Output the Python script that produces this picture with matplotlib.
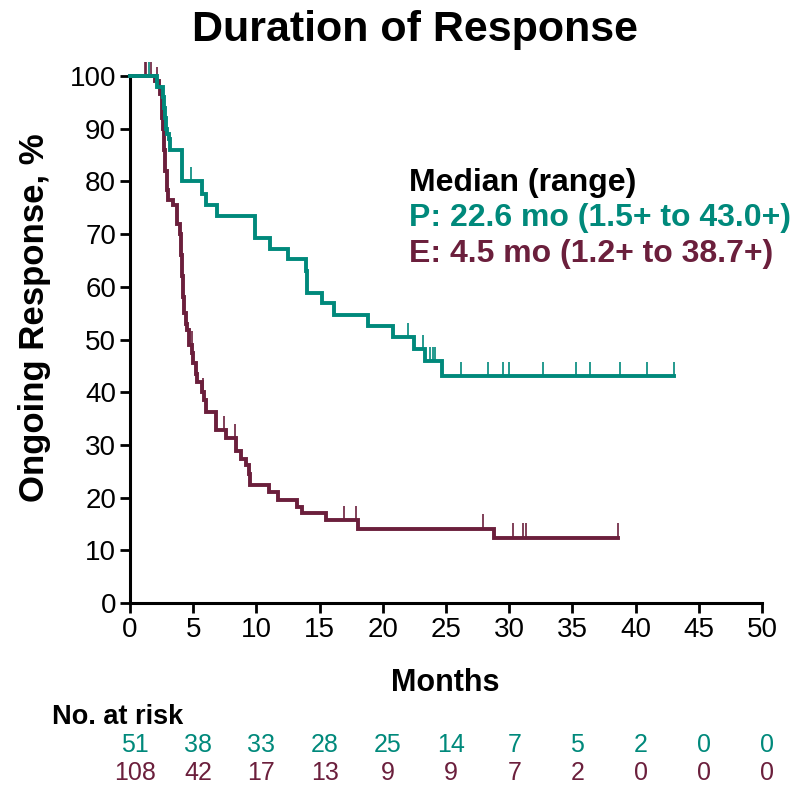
import matplotlib
matplotlib.use('Agg')
import matplotlib.pyplot as plt
import matplotlib.transforms as mtransforms
import numpy as np

plt.rcParams['font.family'] = ['Liberation Sans', 'DejaVu Sans']

teal = '#00897b'
maroon = '#6b1f3c'

# step curves: time of event, survival after event (%)
p_times = [0, 2.1, 2.6, 2.7, 2.75, 2.85, 2.95, 3.05, 3.15, 4.1, 5.7, 6.05, 6.9, 9.9, 11.1, 12.5,
           13.9, 14.0, 15.2, 16.1, 18.8, 20.8, 22.5, 23.3, 24.7, 43.0]
p_surv = [100, 98.0, 96.0, 94.0, 92.0, 90.0, 89.0, 88.0, 86.0, 80.0, 77.6, 75.6, 73.5, 69.3, 67.2, 65.2,
          63.0, 58.9, 56.9, 54.7, 52.6, 50.4, 48.2, 45.9, 43.0, 43.0]
p_cens = [1.5, 4.8, 22.0, 23.2, 23.7, 23.95, 24.15, 26.2, 28.3, 29.5, 30.0, 32.7, 35.3, 36.4,
          38.8, 40.9, 43.0]

e_times = [0, 2.0, 2.3, 2.4, 2.5, 2.55, 2.6, 2.7, 2.8, 2.9, 3.0, 3.4, 3.7, 3.95, 4.05, 4.1, 4.2,
           4.3, 4.4, 4.5, 4.7, 4.9, 4.95, 5.2, 5.3, 5.7, 5.85, 6.0, 6.8, 7.6, 8.4, 8.8, 9.2, 9.4,
           9.5, 11.0, 11.7, 13.2, 13.6, 15.5, 18.0, 28.8, 38.6]
e_surv = [100, 99.0, 98.0, 96.5, 94.0, 92.0, 90.0, 86.0, 82.0, 78.4, 76.5, 75.5, 72.0, 70.0, 66.0,
          62.0, 58.0, 55.0, 53.0, 51.8, 49.0, 47.5, 45.5, 43.5, 42.0, 40.0, 38.5, 36.3, 32.8, 31.3,
          28.9, 27.4, 26.2, 24.5, 22.3, 21.0, 19.5, 18.3, 17.0, 15.7, 14.1, 12.4, 12.4]
e_cens = [1.2, 1.3, 1.65, 2.1, 4.87, 5.8, 7.46, 8.3, 16.95, 17.9, 27.9, 30.3, 31.1, 31.3, 38.6]

risk_times = [0, 5, 10, 15, 20, 25, 30, 35, 40, 45, 50]
p_risk = [51, 38, 33, 28, 25, 14, 7, 5, 2, 0, 0]
e_risk = [108, 42, 17, 13, 9, 9, 7, 2, 0, 0, 0]


def surv_at(times, surv, t):
    idx = np.searchsorted(times, t, side='right') - 1
    return surv[max(idx, 0)]


fig = plt.figure(figsize=(7.99, 7.86), dpi=100)
ax = fig.add_axes([0.1627, 0.2328, 0.791, 0.6705])

for times, surv, cens, col in [(e_times, e_surv, e_cens, maroon), (p_times, p_surv, p_cens, teal)]:
    ax.step(times, surv, where='post', color=col, lw=2.8, solid_joinstyle='miter', clip_on=False, zorder=3)
    cy = [surv_at(times, surv, c) for c in cens]
    ax.vlines(cens, cy, np.array(cy) + 2.7, color=col, lw=1.2, clip_on=False, zorder=3)

ax.set_xlim(0, 50)
ax.set_ylim(0, 100)
ax.set_xticks(range(0, 51, 5))
ax.set_yticks(range(0, 101, 10))
for s in ['top', 'right']:
    ax.spines[s].set_visible(False)
for s in ['left', 'bottom']:
    ax.spines[s].set_linewidth(2.2)
ax.tick_params(direction='out', length=7, width=2, labelsize=20, pad=3)

fig.text(445 / 799, 1 - 683 / 786, 'Months', fontsize=22, fontweight='bold', ha='center', va='center')
fig.text(35 / 799, 1 - 318 / 786, 'Ongoing Response, %', fontsize=25, fontweight='bold',
         rotation=90, ha='center', va='center')
fig.text(415 / 799, 1 - 30 / 786, 'Duration of Response', fontsize=31, fontweight='bold',
         ha='center', va='center')

ax.text(22.1, 79.7, 'Median (range)', fontsize=23, fontweight='bold', color='black', va='center')
ax.text(22.1, 73.1, 'P: 22.6 mo (1.5+ to 43.0+)', fontsize=23, fontweight='bold', color=teal, va='center')
ax.text(22.1, 66.2, 'E: 4.5 mo (1.2+ to 38.7+)', fontsize=23, fontweight='bold', color=maroon, va='center')

fig.text(52 / 799, 1 - 717 / 786, 'No. at risk', fontsize=19.5, fontweight='bold', va='center', ha='left')
trans = mtransforms.blended_transform_factory(ax.transData, fig.transFigure)
for t, pr, er in zip(risk_times, p_risk, e_risk):
    ax.text(t + 0.4, 1 - 745 / 786, str(pr), transform=trans, ha='center', va='center', fontsize=18, color=teal)
    ax.text(t + 0.4, 1 - 773 / 786, str(er), transform=trans, ha='center', va='center', fontsize=18, color=maroon)

fig.savefig('out.png', dpi=100)
